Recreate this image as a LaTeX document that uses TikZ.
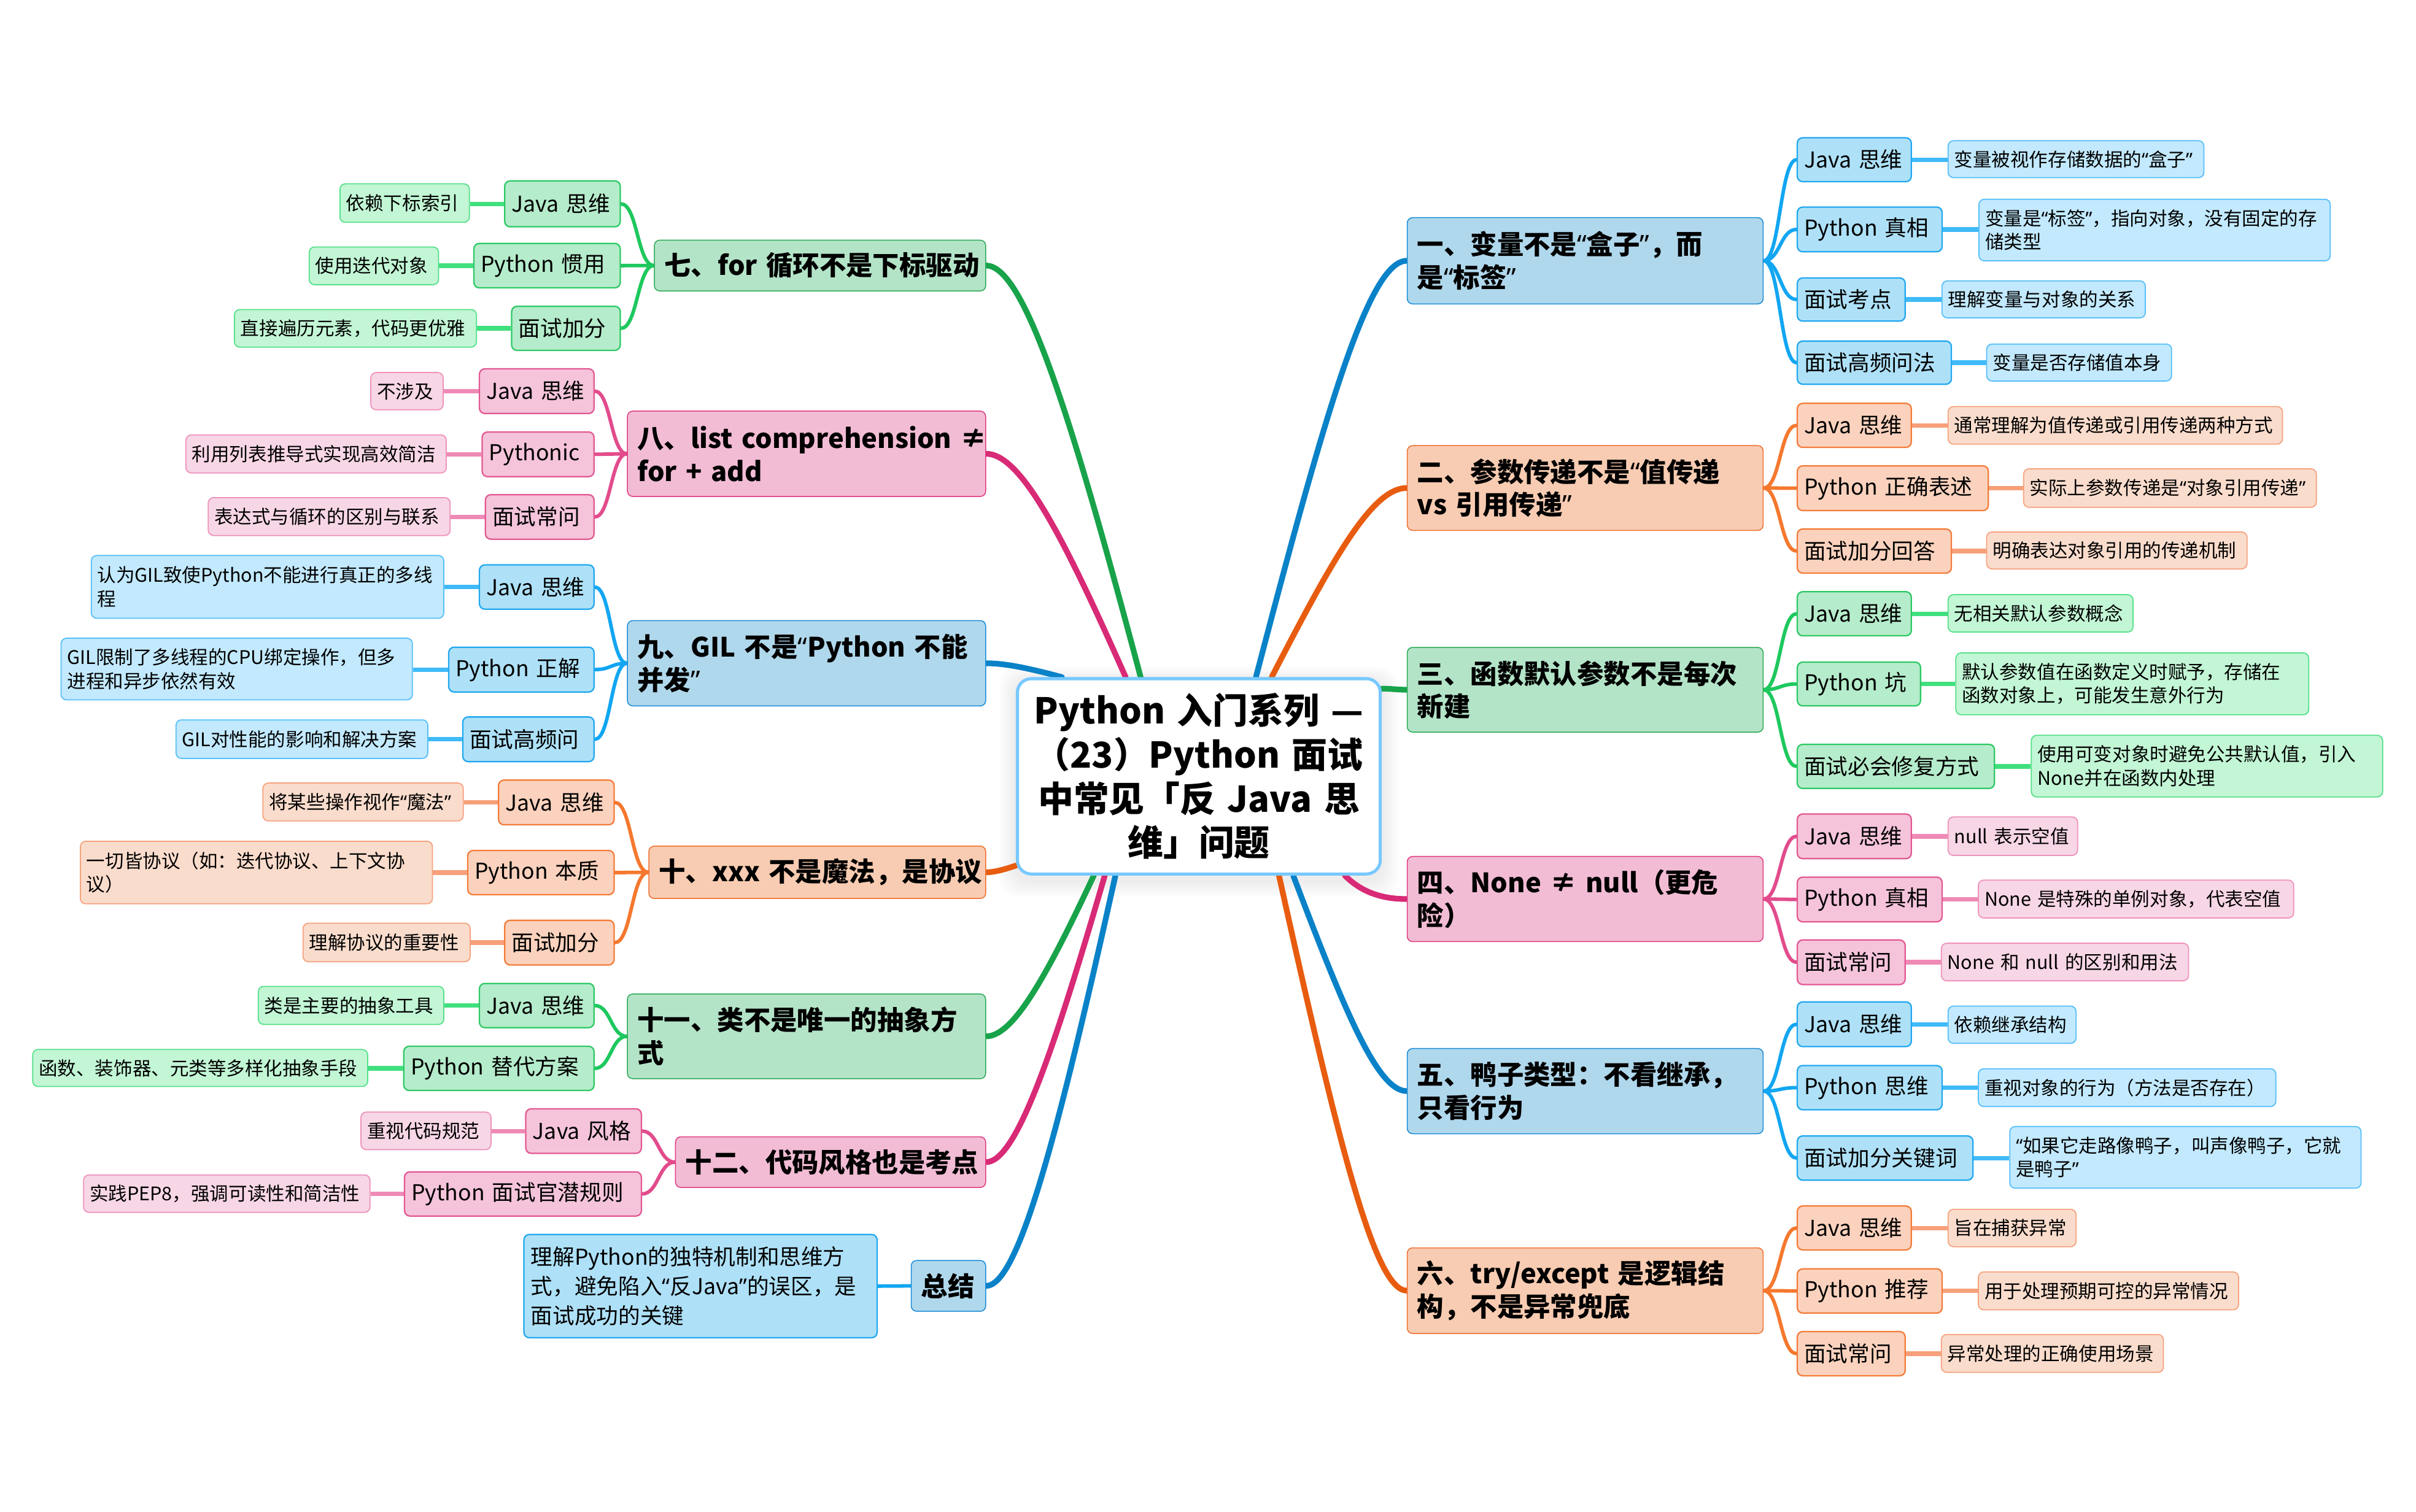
\documentclass[tikz,border=0pt]{standalone}
\usepackage{fontspec}
\setmainfont{Noto Sans CJK SC}
\newfontfamily\mmlatin{Noto Sans}
\usetikzlibrary{calc}
\pgfdeclarelayer{back}
\pgfdeclarelayer{bg}
\pgfsetlayers{back,bg,main}

\definecolor{bCL}{HTML}{0A82C8}
\definecolor{bF1}{HTML}{B0D8EC}
\definecolor{bD1}{HTML}{1A8CD8}
\definecolor{bL2}{HTML}{12A6F2}
\definecolor{bF2}{HTML}{AEE1F8}
\definecolor{bD2}{HTML}{22A8F0}
\definecolor{bL3}{HTML}{40BAF8}
\definecolor{bF3}{HTML}{C2E9FE}
\definecolor{bD3}{HTML}{55BFF8}
\definecolor{oCL}{HTML}{E85C10}
\definecolor{oF1}{HTML}{F8CCB2}
\definecolor{oD1}{HTML}{F07030}
\definecolor{oL2}{HTML}{F5782E}
\definecolor{oF2}{HTML}{FBD2BD}
\definecolor{oD2}{HTML}{F47C3A}
\definecolor{oL3}{HTML}{F7A07A}
\definecolor{oF3}{HTML}{FADCCC}
\definecolor{oD3}{HTML}{F6A27E}
\definecolor{gCL}{HTML}{18A34A}
\definecolor{gF1}{HTML}{B4E4C8}
\definecolor{gD1}{HTML}{2AAA55}
\definecolor{gL2}{HTML}{1EC85E}
\definecolor{gF2}{HTML}{B5ECCB}
\definecolor{gD2}{HTML}{2EC966}
\definecolor{gL3}{HTML}{40E07E}
\definecolor{gF3}{HTML}{C2F6D5}
\definecolor{gD3}{HTML}{55E08A}
\definecolor{pCL}{HTML}{D82A76}
\definecolor{pF1}{HTML}{F2BCD4}
\definecolor{pD1}{HTML}{E03C80}
\definecolor{pL2}{HTML}{E24C8C}
\definecolor{pF2}{HTML}{F5C4DA}
\definecolor{pD2}{HTML}{E35893}
\definecolor{pL3}{HTML}{EF8AB6}
\definecolor{pF3}{HTML}{F7D6E6}
\definecolor{pD3}{HTML}{EE92BA}
\definecolor{cBD}{HTML}{78C8FF}

\newlength\mmu \setlength\mmu{0.025cm}
\newcommand\mmfA{\fontsize{12.3pt}{15.2pt}\selectfont\bfseries}
\newcommand\mmfB{\fontsize{10.1pt}{13.7pt}\selectfont}
\newcommand\mmfC{\fontsize{8.65pt}{10.9pt}\selectfont}
\newcommand\mmfT{\fontsize{16.4pt}{20.3pt}\selectfont\bfseries}
\newcommand\mmlq{{\mmlatin “}}
\newcommand\mmrq{{\mmlatin ”}}
\def\padlvA{6.5}
\def\padlvB{4.5}
\def\padlvC{4}

\tikzset{
  lvA/.style={draw=#1D1, fill=#1F1, line width=0.6\mmu, font=\mmfA, rounded corners=3.5\mmu, inner ysep=0pt, align=left},
  lvB/.style={draw=#1D2, fill=#1F2, line width=0.9\mmu, font=\mmfB, rounded corners=3.5\mmu, inner ysep=0pt, align=left},
  lvC/.style={draw=#1D3, fill=#1F3, line width=0.7\mmu, font=\mmfC, rounded corners=3.5\mmu, inner ysep=0pt, align=left},
  mmcl/.style={draw=#1CL, line width=3.7\mmu, line cap=round},
  mmml/.style={draw=#1L2, line width=2.3\mmu, line cap=round},
  mmll/.style={draw=#1L3, line width=2.9\mmu},
  mmsc/.style={to path={.. controls ($(\tikztostart)!0.5!(\tikztostart -| \tikztotarget)$) and ($(\tikztotarget)!0.5!(\tikztostart |- \tikztotarget)$) .. (\tikztotarget)}},
}

\newcommand\mmR[8]{%
  \edef\mmp{\csname pad#1\endcsname}%
  \pgfmathsetlengthmacro\mmw{(#6-#4)*0.025cm}%
  \pgfmathsetlengthmacro\mmh{(#7-#5)*0.025cm}%
  \pgfmathsetlengthmacro\mmt{(#6-#4-2*\mmp)*0.025cm}%
  \node[#1=#2, anchor=north west, minimum width=\mmw, minimum height=\mmh, text width=\mmt, inner xsep=\mmp\mmu] (#3) at (#4,#5) {#8};}
\newcommand\mmL[8]{%
  \edef\mmp{\csname pad#1\endcsname}%
  \pgfmathsetlengthmacro\mmw{(#6-#4)*0.025cm}%
  \pgfmathsetlengthmacro\mmh{(#7-#5)*0.025cm}%
  \pgfmathsetlengthmacro\mmt{(#6-#4-2*\mmp)*0.025cm}%
  \node[#1=#2, anchor=north east, minimum width=\mmw, minimum height=\mmh, text width=\mmt, inner xsep=\mmp\mmu] (#3) at (#6,#5) {#8};}

\begin{document}
\begin{tikzpicture}[x=0.025cm,y=-0.025cm]
\useasboundingbox (0,0) rectangle (1568,981.6);
\begin{pgfonlayer}{back}
\fill[white] (0,0) rectangle (1568,981.6);
\end{pgfonlayer}

% centre
\node[draw=cBD, fill=white, line width=2\mmu, rounded corners=9\mmu, font=\mmfT, align=center,
      text width=225.5\mmu, inner xsep=5\mmu, inner ysep=0pt, minimum height=126.8\mmu, anchor=north west]
  (c) at (659.3,439.6) {Python 入门系列 —\\（23）Python 面试\\中常见「反 Java 思\\维」问题};

% level 1 right
\mmR{lvA}{b}{n1}{913}{141}{1144}{197}{一、变量不是\mmlq 盒子\mmrq ，而\\是\mmlq 标签\mmrq}
\mmR{lvA}{o}{n2}{913}{289}{1144}{344}{二、参数传递不是\mmlq 值传递\\vs 引用传递\mmrq}
\mmR{lvA}{g}{n3}{913}{420}{1144}{475}{三、函数默认参数不是每次\\新建}
\mmR{lvA}{p}{n4}{913}{555.7}{1144}{611}{四、None~≠~null（更危\\险）}
\mmR{lvA}{b}{n5}{913}{680.4}{1144}{735.7}{五、鸭子类型：不看继承，\\只看行为}
\mmR{lvA}{o}{n6}{913}{809.8}{1144}{865.4}{六、try/except~是逻辑结\\构，不是异常兜底}
% level 1 left
\mmL{lvA}{g}{n7}{425}{155.6}{640}{188.6}{\mbox{七、for 循环不是下标驱动}}
\mmL{lvA}{p}{n8}{407.5}{266.6}{640}{322}{\mbox{八、list comprehension ≠}\\for + add}
\mmL{lvA}{b}{n9}{407.5}{402.6}{640}{458}{九、GIL~不是\mmlq Python~不能\\并发\mmrq}
\mmL{lvA}{o}{n10}{421.4}{549}{640}{583}{\mbox{十、xxx 不是魔法，是协议}}
\mmL{lvA}{g}{n11}{407.5}{645}{640}{700}{十一、类不是唯一的抽象方\\式}
\mmL{lvA}{p}{n12}{438.7}{737.7}{640}{770.6}{十二、代码风格也是考点}
\mmL{lvA}{b}{n13}{591.7}{818}{640}{851}{总结}

% branch 1
\mmR{lvB}{b}{a11}{1166}{89}{1240}{117.5}{Java 思维}
\mmR{lvC}{b}{b11}{1264}{91}{1430}{115}{变量被视作存储数据的\mmlq 盒子\mmrq}
\mmR{lvB}{b}{a12}{1166}{134}{1260}{163}{Python 真相}
\mmR{lvC}{b}{b12}{1284}{129}{1512}{169}{变量是\mmlq 标签\mmrq ，指向对象，没有固定的存\\储类型}
\mmR{lvB}{b}{a13}{1166}{180}{1236}{208}{面试考点}
\mmR{lvC}{b}{b13}{1260}{182}{1392}{206}{理解变量与对象的关系}
\mmR{lvB}{b}{a14}{1166}{221}{1266}{249}{面试高频问法}
\mmR{lvC}{b}{b14}{1289}{223}{1409}{247}{变量是否存储值本身}
% branch 2
\mmR{lvB}{o}{a21}{1166}{261.4}{1240}{290}{Java 思维}
\mmR{lvC}{o}{b21}{1264}{263.6}{1481}{288}{通常理解为值传递或引用传递两种方式}
\mmR{lvB}{o}{a22}{1166}{302}{1290}{331}{Python 正确表述}
\mmR{lvC}{o}{b22}{1313}{304}{1503}{329}{实际上参数传递是\mmlq 对象引用传递\mmrq}
\mmR{lvB}{o}{a23}{1166}{343}{1266}{371.6}{面试加分回答}
\mmR{lvC}{o}{b23}{1289}{345}{1458}{369}{明确表达对象引用的传递机制}
% branch 3
\mmR{lvB}{g}{a31}{1166}{383.7}{1240}{412.3}{Java 思维}
\mmR{lvC}{g}{b31}{1264}{385.7}{1384}{410}{无相关默认参数概念}
\mmR{lvB}{g}{a32}{1166}{429.4}{1246}{457.8}{Python 坑}
\mmR{lvC}{g}{b32}{1269}{423.5}{1498}{463.7}{默认参数值在函数定义时赋予，存储在\\函数对象上，可能发生意外行为}
\mmR{lvB}{g}{a33}{1166}{482.8}{1294}{511.4}{面试必会修复方式}
\mmR{lvC}{g}{b33}{1318}{477}{1546}{517}{使用可变对象时避免公共默认值，引入\\None并在函数内处理}
% branch 4
\mmR{lvB}{p}{a41}{1166}{528}{1240}{557}{Java 思维}
\mmR{lvC}{p}{b41}{1264}{530}{1348}{555}{null 表示空值}
\mmR{lvB}{p}{a42}{1166}{569}{1260}{598}{Python 真相}
\mmR{lvC}{p}{b42}{1283.6}{571}{1488.3}{595.6}{None 是特殊的单例对象，代表空值}
\mmR{lvB}{p}{a43}{1166}{609.8}{1236}{638.7}{面试常问}
\mmR{lvC}{p}{b43}{1259.6}{612}{1420}{636.4}{None 和 null 的区别和用法}
% branch 5
\mmR{lvB}{b}{a51}{1166}{650}{1240}{679}{Java 思维}
\mmR{lvC}{b}{b51}{1264}{652.8}{1347}{677}{依赖继承结构}
\mmR{lvB}{b}{a52}{1166}{691.3}{1260}{720}{Python 思维}
\mmR{lvC}{b}{b52}{1283.6}{693.5}{1476.7}{718}{重视对象的行为（方法是否存在）}
\mmR{lvB}{b}{a53}{1166}{737}{1280}{765.7}{面试加分关键词}
\mmR{lvC}{b}{b53}{1304}{731}{1532}{771}{\mmlq 如果它走路像鸭子，叫声像鸭子，它就\\是鸭子\mmrq}
% branch 6
\mmR{lvB}{o}{a61}{1166}{782.5}{1240}{811}{Java 思维}
\mmR{lvC}{o}{b61}{1264}{784.7}{1347}{809}{旨在捕获异常}
\mmR{lvB}{o}{a62}{1166}{823.3}{1260}{852}{Python 推荐}
\mmR{lvC}{o}{b62}{1283.6}{825.4}{1452.5}{850}{用于处理预期可控的异常情况}
\mmR{lvB}{o}{a63}{1166}{864}{1236}{892.7}{面试常问}
\mmR{lvC}{o}{b63}{1259.6}{866}{1403.7}{890.6}{异常处理的正确使用场景}
% branch 7
\mmL{lvB}{g}{a71}{328}{117}{403}{146.8}{Java 思维}
\mmL{lvC}{g}{b71}{221}{119}{305}{144}{依赖下标索引}
\mmL{lvB}{g}{a72}{308}{157.6}{403}{186.4}{Python 惯用}
\mmL{lvC}{g}{b72}{201}{160}{285}{184.5}{使用迭代对象}
\mmL{lvB}{g}{a73}{332.5}{198.4}{403}{227}{面试加分}
\mmL{lvC}{g}{b73}{152.5}{200.6}{309.6}{225}{直接遍历元素，代码更优雅}
% branch 8
\mmL{lvB}{p}{a81}{311.6}{239}{386}{268}{Java 思维}
\mmL{lvC}{p}{b81}{241}{241.5}{288}{265.7}{不涉及}
\mmL{lvB}{p}{a82}{313.4}{280}{386}{309}{Pythonic}
\mmL{lvC}{p}{b82}{121}{282}{290}{306.7}{利用列表推导式实现高效简洁}
\mmL{lvB}{p}{a83}{315.5}{320.7}{386}{349.6}{面试常问}
\mmL{lvC}{p}{b83}{135.5}{322.7}{292.5}{347.3}{表达式与循环的区别与联系}
% branch 9
\mmL{lvB}{b}{a91}{311.6}{366.3}{386}{395}{Java 思维}
\mmL{lvC}{b}{b91}{59.6}{360.3}{288.4}{401}{认为GIL致使Python不能进行真正的多线\\程}
\mmL{lvB}{b}{a92}{291.7}{419.7}{386}{448.8}{Python 正解}
\mmL{lvC}{b}{b92}{40}{414}{268}{454}{GIL限制了多线程的CPU绑定操作，但多\\进程和异步依然有效}
\mmL{lvB}{b}{a93}{300.8}{465}{386}{494}{面试高频问}
\mmL{lvC}{b}{b93}{114.6}{467}{278}{492}{GIL对性能的影响和解决方案}
% branch 10
\mmL{lvB}{o}{a101}{324}{506}{399}{535}{Java 思维}
\mmL{lvC}{o}{b101}{171}{508}{301}{532.6}{将某些操作视作\mmlq 魔法\mmrq}
\mmL{lvB}{o}{a102}{304}{551.7}{399}{580.4}{Python 本质}
\mmL{lvC}{o}{b102}{52.5}{545.8}{281}{586.4}{一切皆协议（如：迭代协议、上下文协\\议）}
\mmL{lvB}{o}{a103}{328}{597}{399}{626}{面试加分}
\mmL{lvC}{o}{b103}{197}{599}{305.5}{624}{理解协议的重要性}
% branch 11
\mmL{lvB}{g}{a111}{311.6}{638}{386}{666.7}{Java 思维}
\mmL{lvC}{g}{b111}{168}{640}{288.4}{664.7}{类是主要的抽象工具}
\mmL{lvB}{g}{a112}{262.5}{678.8}{386}{707.5}{Python 替代方案}
\mmL{lvC}{g}{b112}{21.6}{681}{239}{705}{函数、装饰器、元类等多样化抽象手段}
% branch 12
\mmL{lvB}{p}{a121}{341.7}{719.4}{416.7}{748.3}{Java 风格}
\mmL{lvC}{p}{b121}{234.6}{721.6}{319}{746}{重视代码规范}
\mmL{lvB}{p}{a122}{263}{760.3}{416.7}{789}{Python 面试官潜规则}
\mmL{lvC}{p}{b122}{54.6}{762.4}{240.5}{786.7}{实践PEP8，强调可读性和简洁性}
% branch 13
\mmL{lvB}{b}{b131}{340.5}{801}{569.7}{868}{理解Python的独特机制和思维方\\式，避免陷入\mmlq 反Java\mmrq 的误区，是\\面试成功的关键}

% start points on the centre box
\coordinate (s1) at ($(c.north west)!0.656!(c.north east)$);
\coordinate (s2) at ($(c.north west)!0.699!(c.north east)$);
\coordinate (s3) at ($(c.north east)!0.058!(c.south east)$);
\coordinate (s4) at ($(c.south west)!0.899!(c.south east)$);
\coordinate (s5) at ($(c.south west)!0.758!(c.south east)$);
\coordinate (s6) at ($(c.south west)!0.719!(c.south east)$);
\coordinate (s7) at ($(c.north west)!0.341!(c.north east)$);
\coordinate (s8) at ($(c.north west)!0.300!(c.north east)$);
\coordinate (s9) at ($(c.north west)!0.126!(c.north east)$);
\coordinate (s10) at ($(c.north west)!0.95!(c.south west)$);
\coordinate (s11) at ($(c.south west)!0.213!(c.south east)$);
\coordinate (s12) at ($(c.south west)!0.243!(c.south east)$);
\coordinate (s13) at ($(c.south west)!0.272!(c.south east)$);

\begin{pgfonlayer}{bg}
\foreach \i in {1,...,6}{
  \fill[black, opacity=0.012, rounded corners=12\mmu] ($(c.north west)+(-1.8*\i,-1.4*\i+2)$) rectangle ($(c.south east)+(1.8*\i,1.8*\i+3)$);
}
\draw[mmcl=b] (s1) .. controls +(44.6,-170.5) and +(-24.8,0) .. (n1.west);
\draw[mmcl=o] (s2) .. controls +(40,-77.6) and +(-22.3,0) .. (n2.west);
\draw[mmcl=g] (s3) .. controls +(6,0) and +(-6,0) .. (n3.west);
\draw[mmcl=p] (s4) .. controls +(12,12) and +(-14,0) .. (n4.west);
\draw[mmcl=b] (s5) .. controls +(33.8,89.2) and +(-18.8,0) .. (n5.west);
\draw[mmcl=o] (s6) .. controls +(38,170.9) and +(-21.1,0) .. (n6.west);
\draw[mmcl=g] (s7) .. controls +(-44.8,-168.5) and +(24.9,0) .. (n7.east);
\draw[mmcl=p] (s8) .. controls +(-40.5,-91.5) and +(22.5,0) .. (n8.east);
\draw[mmcl=b] (s9) .. controls +(-22,-5.9) and +(12.3,0) .. (n9.east);
\draw[mmcl=o] (s10) .. controls +(-6,2) and +(6,0) .. (n10.east);
\draw[mmcl=g] (s11) .. controls +(-31.3,66.8) and +(17.4,0) .. (n11.east);
\draw[mmcl=p] (s12) .. controls +(-34.4,118.3) and +(19.1,0) .. (n12.east);
\draw[mmcl=b] (s13) .. controls +(-37.5,168.9) and +(20.9,0) .. (n13.east);

\foreach \p/\k/\c in {n1/a11/b,n1/a12/b,n1/a13/b,n1/a14/b,n2/a21/o,n2/a22/o,n2/a23/o,
  n3/a31/g,n3/a32/g,n3/a33/g,n4/a41/p,n4/a42/p,n4/a43/p,n5/a51/b,n5/a52/b,n5/a53/b,
  n6/a61/o,n6/a62/o,n6/a63/o}
  \draw[mmml=\c] (\p.east) to[mmsc] (\k.west);
\foreach \p/\k/\c in {n7/a71/g,n7/a72/g,n7/a73/g,n8/a81/p,n8/a82/p,n8/a83/p,
  n9/a91/b,n9/a92/b,n9/a93/b,n10/a101/o,n10/a102/o,n10/a103/o,n11/a111/g,n11/a112/g,
  n12/a121/p,n12/a122/p,n13/b131/b}
  \draw[mmml=\c] (\p.west) to[mmsc] (\k.east);

\foreach \k/\l/\c in {a11/b11/b,a12/b12/b,a13/b13/b,a14/b14/b,a21/b21/o,a22/b22/o,a23/b23/o,
  a31/b31/g,a32/b32/g,a33/b33/g,a41/b41/p,a42/b42/p,a43/b43/p,a51/b51/b,a52/b52/b,a53/b53/b,
  a61/b61/o,a62/b62/o,a63/b63/o}
  \draw[mmll=\c] (\k.east) -- (\k.east -| \l.west);
\foreach \k/\l/\c in {a71/b71/g,a72/b72/g,a73/b73/g,a81/b81/p,a82/b82/p,a83/b83/p,
  a91/b91/b,a92/b92/b,a93/b93/b,a101/b101/o,a102/b102/o,a103/b103/o,a111/b111/g,a112/b112/g,
  a121/b121/p,a122/b122/p}
  \draw[mmll=\c] (\k.west) -- (\k.west -| \l.east);
\end{pgfonlayer}
\end{tikzpicture}
\end{document}
